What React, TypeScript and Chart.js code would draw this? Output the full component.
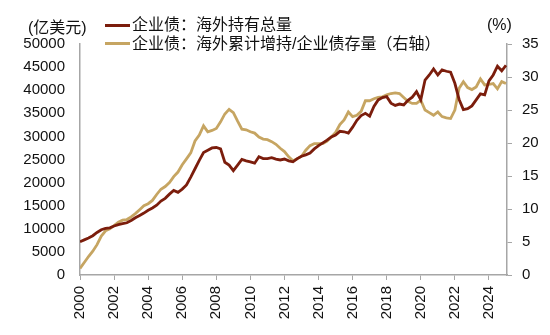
import React, { useEffect, useRef } from "react";
import { Chart, registerables } from "chart.js";

Chart.register(...registerables);

// Quarterly periods 2000Q1 .. 2025Q1
const years = [2000, 2001, 2002, 2003, 2004, 2005, 2006, 2007, 2008, 2009, 2010, 2011, 2012, 2013, 2014, 2015, 2016, 2017, 2018, 2019, 2020, 2021, 2022, 2023, 2024, 2025];
const quarterOffsets = [0, 0.25, 0.5, 0.75];

// 企业债：海外持有总量 (亿美元)
const holdings = [
  7200, 7600, 8000, 8500,
  9200, 9800, 10100, 10200,
  10600, 10900, 11100, 11300,
  11800, 12400, 12900, 13400,
  14000, 14500, 15100, 16000,
  16600, 17500, 18300, 17900,
  18600, 19500, 21200, 23000,
  24800, 26500, 27000, 27500,
  27600, 27300, 24400, 23800,
  22600, 23800, 25000, 24700,
  24500, 24200, 25600, 25200,
  25200, 25400, 25100, 24900,
  25100, 24700, 24500, 25200,
  25700, 26000, 26400, 27300,
  28000, 28600, 29200, 29900,
  30300, 31100, 31000, 30700,
  32000, 33500, 34500, 35000,
  34400, 36500, 37900, 38400,
  38600, 37200, 36700, 37000,
  36800, 37800, 38500, 39700,
  37900, 42200, 43300, 44600,
  43300, 44400, 44100, 43900,
  41500, 38000, 35800, 36000,
  36600, 37900, 39200, 39000,
  42000, 43300, 45200, 44200,
  45400,
];

// 企业债：海外累计增持/企业债存量 (%)
const ratio = [
  1.0, 1.9, 2.8, 3.6,
  4.6, 5.9, 6.7, 7.0,
  7.5, 8.0, 8.3, 8.4,
  8.8, 9.3, 9.9, 10.5,
  10.8, 11.3, 12.2, 13.0,
  13.4, 14.0, 14.9, 15.6,
  16.7, 17.6, 18.5, 20.3,
  21.2, 22.6, 21.7, 21.9,
  22.2, 23.2, 24.4, 25.1,
  24.6, 23.3, 22.1, 22.0,
  21.7, 21.5, 20.9, 20.6,
  20.5, 20.2, 19.8, 19.2,
  18.7, 17.9, 17.3, 17.6,
  18.0, 18.9, 19.6, 19.9,
  19.9, 19.9, 20.3, 20.9,
  21.6, 22.8, 23.5, 24.7,
  24.0, 24.2, 24.8, 26.4,
  26.4, 26.7, 26.9, 27.0,
  27.3, 27.5, 27.6, 27.5,
  26.9, 26.3, 26.0, 26.0,
  26.5, 25.0, 24.6, 24.2,
  24.7, 24.0, 23.8, 23.7,
  25.0, 28.3, 29.3, 28.4,
  28.1, 28.5, 29.7, 28.8,
  28.9, 29.0, 28.2, 29.3,
  29.0,
];

const seriesNames = ["企业债：海外持有总量", "企业债：海外累计增持/企业债存量（右轴）"];
const leftUnit = "(亿美元)";
const rightUnit = "(%)";

const COLOR_DARK = "#7b1d0c";
const COLOR_GOLD = "#c6a562";
const AXIS = "#a6a6a6";
const NUM_FONT = "'Liberation Sans', Arial, sans-serif";
const TXT_FONT = "'Liberation Sans', 'Noto Sans CJK SC', sans-serif";

const periods: number[] = [];
years.forEach((y) => quarterOffsets.forEach((q) => periods.push(y + q)));

export default function App() {
  const ref = useRef<HTMLCanvasElement | null>(null);

  useEffect(() => {
    document.body.style.margin = "0";
    const canvas = ref.current;
    if (!canvas) return;
    const chart = new Chart(canvas, {
      type: "line",
      data: {
        datasets: [
          {
            label: seriesNames[0],
            data: holdings.map((v, i) => ({ x: periods[i], y: v })),
            borderColor: COLOR_DARK,
            borderWidth: 2.8,
            pointRadius: 0,
            tension: 0,
            yAxisID: "y",
          },
          {
            label: seriesNames[1],
            data: ratio.map((v, i) => ({ x: periods[i], y: v })),
            borderColor: COLOR_GOLD,
            borderWidth: 2.8,
            pointRadius: 0,
            tension: 0,
            yAxisID: "y1",
          },
        ],
      },
      options: {
        animation: false,
        responsive: true,
        maintainAspectRatio: false,
        layout: { padding: { top: 44, bottom: 0, left: 0, right: 0 } },
        plugins: { legend: { display: false }, tooltip: { enabled: false } },
        scales: {
          x: {
            type: "linear",
            min: 2000,
            max: 2025.06,
            grid: { display: true, drawOnChartArea: false, drawTicks: true, tickLength: 5, color: AXIS },
            border: { display: true, color: AXIS, width: 1.5 },
            ticks: {
              stepSize: 2,
              includeBounds: false,
              autoSkip: false,
              minRotation: 90,
              maxRotation: 90,
              padding: 6,
              color: "#111",
              font: { family: NUM_FONT, size: 15 },
              callback: (v: any) => String(v),
            },
            afterFit: (s: any) => {
              s.height = 60;
            },
          },
          y: {
            position: "left",
            min: 0,
            max: 50000,
            grid: { display: false, drawTicks: false, tickLength: 0 },
            border: { display: true, color: AXIS, width: 1.5 },
            ticks: {
              stepSize: 5000,
              padding: 15,
              color: "#111",
              font: { family: NUM_FONT, size: 15 },
              callback: (v: any) => String(v),
            },
            afterFit: (s: any) => {
              s.width = 80;
            },
          },
          y1: {
            position: "right",
            min: 0,
            max: 35,
            grid: { display: true, drawOnChartArea: false, drawTicks: true, tickLength: 5, color: AXIS },
            border: { display: true, color: AXIS, width: 1.5 },
            ticks: {
              stepSize: 5,
              padding: 10,
              color: "#111",
              font: { family: NUM_FONT, size: 15 },
              callback: (v: any) => String(v),
            },
            afterFit: (s: any) => {
              s.width = 43;
            },
          },
        },
      },
    });
    return () => chart.destroy();
  }, []);

  const textStyle: React.CSSProperties = {
    position: "absolute",
    fontFamily: TXT_FONT,
    fontSize: 16,
    lineHeight: "16px",
    color: "#111",
    whiteSpace: "nowrap",
  };
  const lineStyle = (color: string, top: number): React.CSSProperties => ({
    position: "absolute",
    left: 105,
    top,
    width: 25,
    height: 3,
    background: color,
  });

  return (
    <div style={{ position: "relative", width: 550, height: 335 }}>
      <canvas ref={ref} width={550} height={335} />
      <div style={{ ...textStyle, left: 28, top: 20 }}>{leftUnit}</div>
      <div style={{ ...textStyle, left: 487, top: 17 }}>{rightUnit}</div>
      <div style={lineStyle(COLOR_DARK, 23.5)} />
      <div style={{ ...textStyle, left: 132, top: 17 }}>{seriesNames[0]}</div>
      <div style={lineStyle(COLOR_GOLD, 42)} />
      <div style={{ ...textStyle, left: 132, top: 35.5 }}>{seriesNames[1]}</div>
    </div>
  );
}
